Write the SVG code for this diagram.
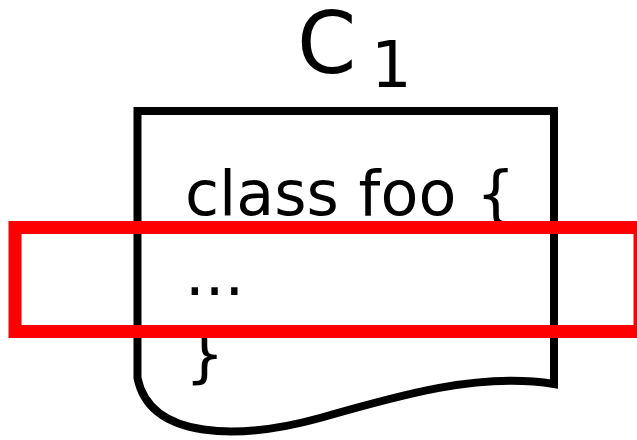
<svg xmlns="http://www.w3.org/2000/svg" width="637" height="440" viewBox="0 0 637 440">
<style>
.t{font-family:"DejaVu Sans","Liberation Sans",sans-serif;fill:#000}
.code{font-size:62px}
</style>
<rect width="637" height="440" fill="#fff"/>
<g id="node-c1">
<path d="M137.5,111 H554 V384 C480,372 400,395 320,418 C240,440 150,440 137.5,378 Z" fill="#fff" stroke="#000" stroke-width="8" stroke-linejoin="miter"/>
<text class="t" x="297" y="73" font-size="85">C</text>
<text class="t" x="371" y="87" font-size="64">1</text>
<text class="t code" x="185" y="215">class foo {</text>
<text class="t code" x="185" y="295">...</text>
<text class="t code" x="185" y="375">}</text>
</g>
<g id="highlight">
<rect x="15" y="227.5" width="625" height="104" fill="none" stroke="#ff0000" stroke-width="13"/>
</g>
</svg>
